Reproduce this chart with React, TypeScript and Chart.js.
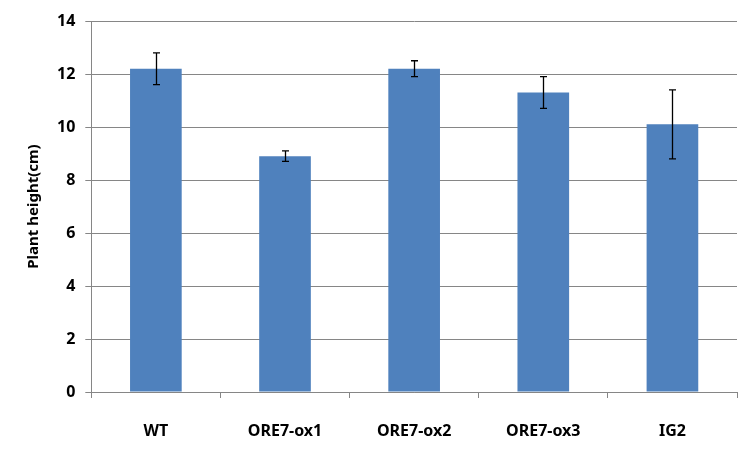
import React, { useEffect, useRef } from "react";
import { Chart, registerables } from "chart.js";

Chart.register(...registerables);

const categories = ["WT", "ORE7-ox1", "ORE7-ox2", "ORE7-ox3", "IG2"];
const heights = [12.2, 8.9, 12.2, 11.3, 10.1];
const errors = [0.6, 0.2, 0.3, 0.6, 1.3];
const yTicks = [0, 2, 4, 6, 8, 10, 12, 14];

const errorBarPlugin = {
  id: "errorBars",
  afterDatasetsDraw(chart: any) {
    const ctx = chart.ctx;
    const meta = chart.getDatasetMeta(0);
    const yScale = chart.scales.y;
    ctx.save();
    ctx.strokeStyle = "#000000";
    ctx.lineWidth = 1.3;
    meta.data.forEach((bar: any, i: number) => {
      const x = Math.round(bar.x) + 0.5;
      const top = yScale.getPixelForValue(heights[i] + errors[i]);
      const bottom = yScale.getPixelForValue(heights[i] - errors[i]);
      const cap = 3.5;
      ctx.beginPath();
      ctx.moveTo(x, top);
      ctx.lineTo(x, bottom);
      ctx.moveTo(x - cap, top);
      ctx.lineTo(x + cap, top);
      ctx.moveTo(x - cap, bottom);
      ctx.lineTo(x + cap, bottom);
      ctx.stroke();
    });
    ctx.restore();
  },
};

export default function App() {
  const ref = useRef<HTMLCanvasElement | null>(null);
  useEffect(() => {
    document.body.style.margin = "0";
    if (!ref.current) return;
    const font = { family: "'Noto Sans', sans-serif", size: 16, weight: "bold" as const };
    const titleFont = { family: "'Noto Sans', sans-serif", size: 15, weight: "bold" as const };
    const chart = new Chart(ref.current, {
      type: "bar",
      data: {
        labels: categories,
        datasets: [
          {
            data: heights,
            backgroundColor: "#4F81BD",
            borderWidth: 0,
            categoryPercentage: 1,
            barPercentage: 0.4,
          },
        ],
      },
      options: {
        animation: false,
        responsive: false,
        maintainAspectRatio: false,
        layout: { padding: { left: 25, right: 15, top: 21, bottom: 0 } },
        plugins: { legend: { display: false }, tooltip: { enabled: false } },
        scales: {
          x: {
            offset: true,
            afterFit(scale: any) {
              scale.height = 60;
            },
            grid: {
              offset: true,
              drawOnChartArea: false,
              drawTicks: true,
              tickLength: 6,
              color: "#868686",
            },
            border: { color: "#868686" },
            ticks: { color: "#000", font, padding: 24 },
          },
          y: {
            min: 0,
            max: 14,
            afterBuildTicks(scale: any) {
              scale.ticks = yTicks.map((v) => ({ value: v }));
            },
            grid: { color: "#868686", tickLength: 6 },
            border: { color: "#868686" },
            ticks: { color: "#000", font, padding: 10 },
            title: {
              display: true,
              text: "Plant height(cm)",
              color: "#000",
              font: titleFont,
              padding: { top: 0, bottom: 4 },
            },
          },
        },
      },
      plugins: [errorBarPlugin],
    });
    return () => chart.destroy();
  }, []);
  return <canvas ref={ref} width={752} height={452} style={{ display: "block" }} />;
}
